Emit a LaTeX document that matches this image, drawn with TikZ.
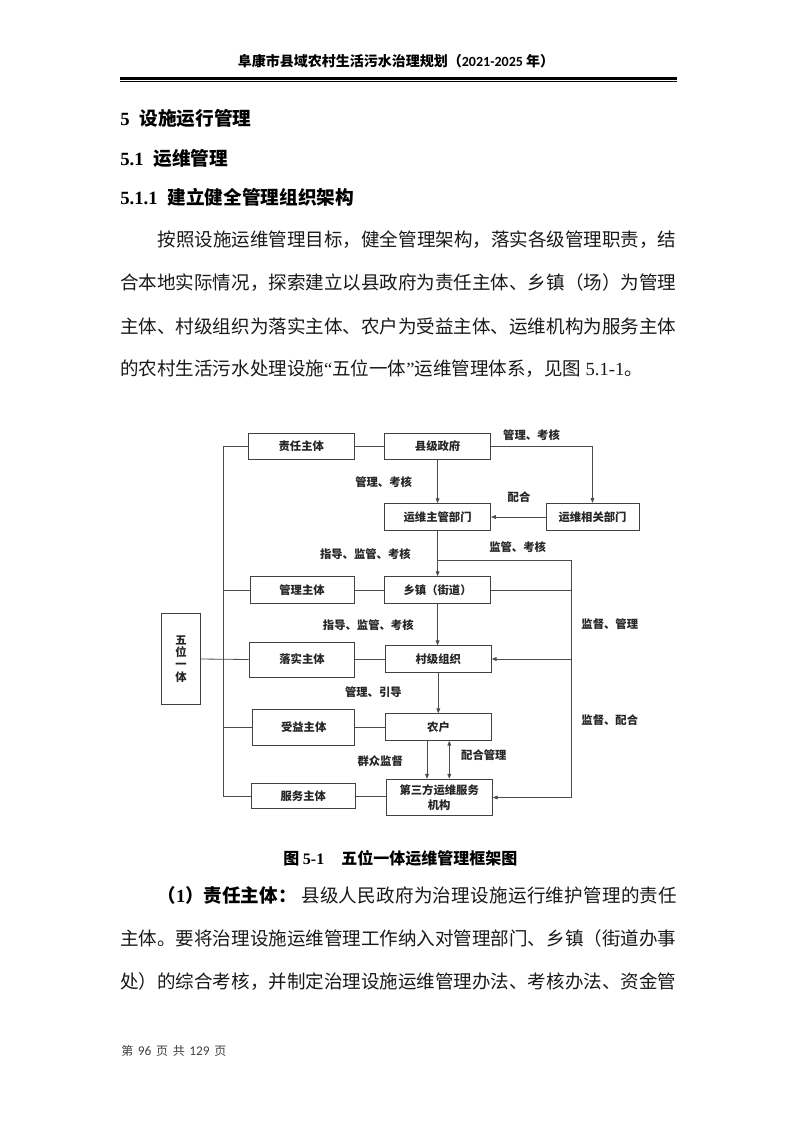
\documentclass[tikz,border=0pt]{standalone}
\usepackage{fontspec}
\setmainfont{Liberation Serif}
\newfontfamily\cjk{Noto Sans CJK SC}
\newfontfamily\tms{Liberation Serif}
\newfontfamily\calfont{Carlito}
\usetikzlibrary{arrows.meta}
\tikzset{
  box/.style={draw=black!75, line width=0.6pt, inner sep=0pt, align=center, text=black!85,
    font=\cjk\bfseries\fontsize{8.5}{10}\selectfont},
  lbl/.style={inner sep=0pt, text=black!85, font=\cjk\bfseries\fontsize{8.5}{10}\selectfont},
  conn/.style={draw=black!70, line width=0.6pt},
  arr/.style={conn, -{Triangle[length=3.6pt,width=2.8pt]}},
  dblarr/.style={conn, {Triangle[length=3.6pt,width=2.8pt]}-{Triangle[length=3.6pt,width=2.8pt]}},
  body/.style={inner sep=0pt, anchor=west, text=black!90, font=\cjk\fontsize{13.9}{16}\selectfont},
  head/.style={inner sep=0pt, anchor=west, font=\bfseries\fontsize{14}{16}\selectfont},
  rule/.style={draw=black},
}
\begin{document}
\begin{tikzpicture}[x=0.75pt,y=-0.75pt]
\useasboundingbox (0,0) rectangle (793,1122);
\fill[white] (0,0) rectangle (793,1122);

% header
\node[inner sep=0pt] (hdr) at (396,61) {\cjk\bfseries\fontsize{10.5}{12}\selectfont 阜康市县域农村生活污水治理规划（{\calfont 2021-2025 }年）};
\draw[rule, line width=1.9pt] (120,78.75) -- (677,78.75);
\draw[rule, line width=0.75pt] (120,81.5) -- (677,81.5);

% headings
\node[head] (h1) at (120,118) {{\tms 5}\hspace{7.5pt}{\cjk 设施运行管理}};
\node[head] (h2) at (120,158) {{\tms 5.1}\hspace{7.5pt}{\cjk 运维管理}};
\node[head] (h3) at (120,197) {{\tms 5.1.1}\hspace{7.5pt}{\cjk 建立健全管理组织架构}};

% body paragraph
\node[body] (p1) at (157.3,240) {按照设施运维管理目标，健全管理架构，落实各级管理职责，结};
\node[body] (p2) at (120,283) {合本地实际情况，探索建立以县政府为责任主体、乡镇（场）为管理};
\node[body] (p3) at (120,326) {主体、村级组织为落实主体、农户为受益主体、运维机构为服务主体};
\node[body] (p4) at (120,369) {的农村生活污水处理设施{\tms “}五位一体{\tms ”}运维管理体系，见图 {\tms 5.1-1}。};

% diagram boxes
\node[box, minimum width=79.05pt, minimum height=19.5pt] (zeren) at (301.3,446) {责任主体};
\node[box, minimum width=79.5pt, minimum height=19.5pt] (xianji) at (437.6,446) {县级政府};
\node[box, minimum width=79.5pt, minimum height=20.25pt] (zhuguan) at (437.6,517) {运维主管部门};
\node[box, minimum width=69.75pt, minimum height=20.6pt] (xiangguan) at (592.5,517) {运维相关部门};
\node[box, minimum width=78pt, minimum height=20.25pt] (guanli) at (302,590) {管理主体};
\node[box, minimum width=79.5pt, minimum height=20.25pt] (xiangzhen) at (437.6,590) {乡镇（街道）};
\node[box, minimum width=29.25pt, minimum height=68.25pt, font=\cjk\bfseries\fontsize{8.5}{9.2}\selectfont] (wuwei) at (181,659) {五\\位\\一\\体};
\node[box, minimum width=79.3pt, minimum height=26.25pt] (luoshi) at (302,659.5) {落实主体};
\node[box, minimum width=79.5pt, minimum height=20pt] (cunji) at (438.3,659) {村级组织};
\node[box, minimum width=76.5pt, minimum height=26.8pt] (shouyi) at (303.7,727.4) {受益主体};
\node[box, minimum width=79.8pt, minimum height=20pt] (nonghu) at (438.5,727) {农户};
\node[box, minimum width=78.5pt, minimum height=19.1pt] (fuwu) at (303.3,796) {服务主体};
\node[box, minimum width=79.8pt, minimum height=27.5pt, font=\cjk\bfseries\fontsize{8.5}{10.8}\selectfont] (disan) at (439.2,797.5) {第三方运维服务\\机构};

% helper coordinates
\coordinate (Ltop) at (223.7,446);
\coordinate (Lbot) at (223.7,796);
\coordinate (B) at (437.6,560.5);
\coordinate (Rtop) at (571.7,560.5);

% left bus
\draw[conn] (zeren.west) -- (Ltop) -- (Lbot) -- (fuwu.west);
\draw[conn] (guanli.west) -- (guanli.west -| Ltop);
\draw[conn] (shouyi.west) -- (shouyi.west -| Ltop);
\draw[conn] (wuwei.east) -- (luoshi.west);

% horizontal links
\draw[conn] (zeren.east) -- (xianji.west);
\draw[conn] (guanli.east) -- (xiangzhen.west);
\draw[conn] (luoshi.east) -- (luoshi.east -| cunji.west);
\draw[conn] (shouyi.east) -- (shouyi.east -| nonghu.west);
\draw[conn] (fuwu.east) -- (fuwu.east -| disan.west);

% top right
\draw[arr] (xianji.east) -| (xiangguan.north);
\draw[arr] (xiangguan.west) -- (zhuguan.east);
\draw[arr] (xianji.south) -- (zhuguan.north);

% middle column
\draw[arr] (zhuguan.south) -- (xiangzhen.north);
\draw[conn] (B) -- (Rtop);
\draw[arr] (Rtop) |- (disan.east);
\draw[conn] (xiangzhen.east) -- (xiangzhen.east -| Rtop);
\draw[arr] (cunji.east -| Rtop) -- (cunji.east);
\draw[arr] (xiangzhen.south) -- (xiangzhen.south |- cunji.north);
\draw[arr] (cunji.south) -- (cunji.south |- nonghu.north);
\draw[arr] ([xshift=-8.6pt]nonghu.south) -- ([xshift=-8.6pt]nonghu.south |- disan.north);
\draw[dblarr] ([xshift=8.1pt]nonghu.south) -- ([xshift=8.1pt]nonghu.south |- disan.north);

% labels
\node[lbl] (l1) at (531.5,435) {管理、考核};
\node[lbl] (l2) at (383.6,482) {管理、考核};
\node[lbl] (l3) at (519,497.6) {配合};
\node[lbl] (l4) at (365.4,553.7) {指导、监管、考核};
\node[lbl] (l5) at (517.6,547.6) {监管、考核};
\node[lbl] (l6) at (368.3,625.5) {指导、监管、考核};
\node[lbl] (l7) at (609.8,623.8) {监督、管理};
\node[lbl] (l8) at (373.4,691.8) {管理、引导};
\node[lbl] (l9) at (609.8,719.7) {监督、配合};
\node[lbl] (l10) at (380.2,761.6) {群众监督};
\node[lbl] (l11) at (483.9,754.8) {配合管理};

% caption
\node[inner sep=0pt, anchor=west] (cap) at (283,858) {\cjk\bfseries\fontsize{12}{14}\selectfont 图 {\tms 5-1}\hspace{12.75pt}五位一体运维管理框架图};

% second paragraph
\node[body, text=black] (q1a) at (157.3,895) {\bfseries （{\tms 1}）责任主体：};
\node[body] (q1b) at (301,895) {\makebox[282pt][s]{县\hfill 级\hfill 人\hfill 民\hfill 政\hfill 府\hfill 为\hfill 治\hfill 理\hfill 设\hfill 施\hfill 运\hfill 行\hfill 维\hfill 护\hfill 管\hfill 理\hfill 的\hfill 责\hfill 任}};
\node[body] (q2) at (120,938) {主体。要将治理设施运维管理工作纳入对管理部门、乡镇（街道办事};
\node[body] (q3) at (120,982) {处）的综合考核，并制定治理设施运维管理办法、考核办法、资金管};

% footer
\node[inner sep=0pt, anchor=west, text=black!75] (foot) at (121,1051) {\cjk\fontsize{9}{10}\selectfont 第\hspace{3.5pt}{\calfont\fontsize{10}{11}\selectfont 96}\hspace{3.5pt}页\hspace{3.5pt}共\hspace{3.5pt}{\calfont\fontsize{10}{11}\selectfont 129}\hspace{3.5pt}页};
\end{tikzpicture}
\end{document}
